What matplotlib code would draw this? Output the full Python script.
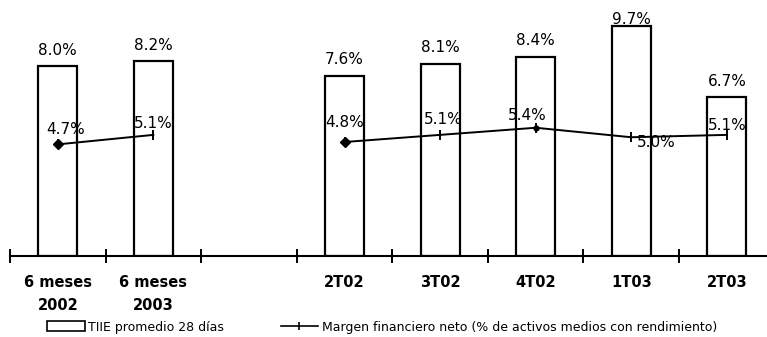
import numpy as np
import matplotlib
matplotlib.use("Agg")
import matplotlib.pyplot as plt
from matplotlib.patches import Patch
from matplotlib.lines import Line2D

# Categories (empty slot separates the half-year figures from the quarters)
categories = ["6 meses\n2002", "6 meses\n2003", "", "2T02", "3T02", "4T02", "1T03", "2T03"]
tiie = [8.0, 8.2, np.nan, 7.6, 8.1, 8.4, 9.7, 6.7]
margen = [4.7, 5.1, np.nan, 4.8, 5.1, 5.4, 5.0, 5.1]

tiie_label = "TIIE promedio 28 días"
margen_label = "Margen financiero neto (% de activos medios con rendimiento)"

W, H = 767, 337
fig = plt.figure(figsize=(W / 100, H / 100), dpi=100)
ax = fig.add_axes([10 / W, 81 / H, 757 / W, 256 / H])

x = np.arange(len(categories))
tiie_arr = np.array(tiie, dtype=float)
margen_arr = np.array(margen, dtype=float)

# Bars
ax.bar(x, tiie_arr, width=0.41, facecolor="white", edgecolor="black", linewidth=1.6, zorder=2)

# Line (gap at the empty slot)
ax.plot(x, margen_arr, color="black", linewidth=1.4, marker="|", markersize=7,
        markeredgewidth=1.4, zorder=3)
# first point of each segment drawn with a diamond
starts = [i for i in range(len(x)) if not np.isnan(margen_arr[i]) and (i == 0 or np.isnan(margen_arr[i - 1]))]
ax.plot(x[starts], margen_arr[starts], linestyle="none", marker="D", markersize=5,
        color="black", zorder=4)
ax.plot(x[5], margen_arr[5], linestyle="none", marker="o", markersize=3.5, color="black", zorder=4)

label_font = dict(family="DejaVu Sans", fontsize=11)

# Bar value labels
bar_offsets = {6: -1}
for xi, v in zip(x, tiie_arr):
    if np.isnan(v):
        continue
    ax.annotate(f"{v:.1f}%", (xi, v), xytext=(0, bar_offsets.get(int(xi), 6)),
                textcoords="offset points", ha="center", va="bottom", **label_font)

# Line value labels
offsets = {0: (6, 11), 1: (0, 8), 3: (0, 14), 4: (2, 11), 5: (-6, 9), 6: (18, -4), 7: (0, 7)}
for xi, v in zip(x, margen_arr):
    if np.isnan(v):
        continue
    dx, dy = offsets.get(int(xi), (0, 8))
    ax.annotate(f"{v:.1f}%", (xi, v), xytext=(dx, dy), textcoords="offset points",
                ha="center", va="center", **label_font)

ax.set_xlim(-0.5, 7.42)
ax.set_ylim(0, 256 / 23.75)

for s in ["top", "right", "left"]:
    ax.spines[s].set_visible(False)
ax.spines["bottom"].set_linewidth(1.5)
ax.set_yticks([])

# Boundary ticks crossing the axis, category labels at the centres
ax.set_xticks(np.arange(-0.5, len(categories) - 0.5, 1.0))
ax.set_xticklabels([])
ax.tick_params(axis="x", which="major", direction="inout", length=10, width=1.4)
ax.set_xticks(x, minor=True)
ax.set_xticklabels(categories, minor=True, fontweight="bold", fontsize=10.5,
                   family="DejaVu Sans", linespacing=1.6)
ax.tick_params(axis="x", which="minor", length=0, pad=14)

handles = [Patch(facecolor="white", edgecolor="black", linewidth=1.2),
           Line2D([0], [0], color="black", linewidth=1.2, marker="|", markersize=6,
                  markeredgewidth=1.2)]
fig.legend(handles, [tiie_label, margen_label], loc="center left",
           bbox_to_anchor=(36 / W, 1 - 327 / H), ncol=2, frameon=False,
           prop=dict(family=["Liberation Sans Narrow", "DejaVu Sans"], size=9),
           handlelength=3.0, handleheight=0.8, handletextpad=0.3, columnspacing=4.5)

fig.savefig("out.png", dpi=100)
